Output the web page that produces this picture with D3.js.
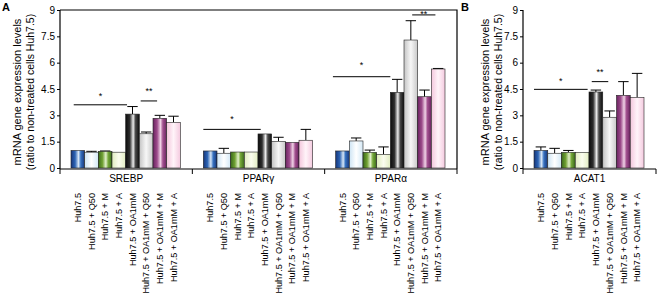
<!DOCTYPE html>
<html>
<head>
<meta charset="utf-8">
<script src="https://cdn.jsdelivr.net/npm/d3@7"></script>
<style>
    body { margin: 0; background: #fff; }
    svg { display: block; font-family: "Liberation Sans", Arial, sans-serif; }
</style>
</head>
<body>
<svg id="chart" width="657" height="298"></svg>
<script>
var treatments = ["Huh7.5", "Huh7.5 + Q50", "Huh7.5 + M", "Huh7.5 + A", "Huh7.5 + OA1mM",
    "Huh7.5 + OA1mM + Q50", "Huh7.5 + OA1mM + M", "Huh7.5 + OA1mM + A"];
var genesA = ["SREBP", "PPARγ", "PPARα"];
var genesB = ["ACAT1"];
var yTicks = [0, 1.5, 3, 4.5, 6, 7.5, 9];

var srebp = [1.0, 0.9, 0.95, 0.9, 3.07, 1.95, 2.83, 2.6];
var srebpErr = [0, 0.05, 0.02, 0, 0.43, 0.1, 0.17, 0.35];
var pparg = [0.97, 0.84, 0.91, 0.91, 1.94, 1.52, 1.46, 1.58];
var ppargErr = [0, 0.28, 0, 0, 0, 0.23, 0, 0.62];
var ppara = [0.97, 1.54, 0.89, 0.78, 4.31, 7.29, 4.06, 5.64];
var pparaErr = [0, 0.17, 0.13, 0.42, 0.74, 1.1, 0.38, 0.03];
var acat1 = [1.0, 0.84, 0.89, 0.89, 4.33, 2.89, 4.14, 4.02];
var acat1Err = [0.2, 0.28, 0.11, 0, 0.11, 0.36, 0.78, 1.37];

// significance brackets: bar positions (in bar units) and heights in data units
var brackets = [
    {gene: "SREBP", from: 0.2, to: 4.1, y: 3.6, label: "*", labelY: 4.2},
    {gene: "SREBP", from: 5.1, to: 6.3, y: 3.82, label: "**", labelY: 4.5},
    {gene: "PPARγ", from: 0, to: 4.2, y: 2.2, label: "*", labelY: 2.9},
    {gene: "PPARα", from: -0.2, to: 4.0, y: 5.2, label: "*", labelY: 5.98},
    {gene: "PPARα", from: 5.6, to: 7.3, y: 8.72, label: "**", labelY: 8.86},
    {gene: "ACAT1", from: 0, to: 3.9, y: 4.48, label: "*", labelY: 5.07},
    {gene: "ACAT1", from: 4.2, to: 5.4, y: 4.92, label: "**", labelY: 5.58}
];

var values = {"SREBP": srebp, "PPARγ": pparg, "PPARα": ppara, "ACAT1": acat1};
var errors = {"SREBP": srebpErr, "PPARγ": ppargErr, "PPARα": pparaErr, "ACAT1": acat1Err};

var gradients = [
    [["0", "#17367a"], ["0.3", "#2c64b4"], ["0.55", "#d6e6f6"], ["0.72", "#3571c0"], ["1", "#17367a"]],
    [["0", "#cde4f4"], ["0.5", "#ffffff"], ["1", "#d3e8f6"]],
    [["0", "#3b6a1c"], ["0.3", "#6fa032"], ["0.55", "#e3f1cc"], ["0.72", "#75a838"], ["1", "#3b6a1c"]],
    [["0", "#e0ecbf"], ["0.5", "#fbfdef"], ["1", "#e2edc3"]],
    [["0", "#0c0c0c"], ["0.3", "#2e2e2e"], ["0.55", "#ececec"], ["0.72", "#4a4a4a"], ["1", "#0c0c0c"]],
    [["0", "#c4c4c4"], ["0.5", "#f7f7f7"], ["1", "#c8c8c8"]],
    [["0", "#6a2360"], ["0.3", "#9c4a8a"], ["0.55", "#f0d2e6"], ["0.72", "#a2508f"], ["1", "#6a2360"]],
    [["0", "#f3c6dc"], ["0.5", "#fff4f9"], ["1", "#f4cadf"]]
];

var svg = d3.select("#chart");
var defs = svg.append("defs");

gradients.forEach(function(stops, i) {
    var grad = defs.append("linearGradient")
        .attr("id", "g" + i)
        .attr("x1", "0").attr("x2", "1").attr("y1", "0").attr("y2", "0");
    stops.forEach(function(s) {
        grad.append("stop").attr("offset", s[0]).attr("stop-color", s[1]);
    });
});

var y = d3.scaleLinear().domain([0, 9]).range([168, 10]);

var draw_panel = function(genes, x0, x1, letter, letterX, titleX, frame) {
    var g = svg.append("g");
    var x = d3.scaleBand().domain(genes).range([x0, x1]);
    var inner = d3.scaleLinear().domain([0, 8]).range([11, x.bandwidth() - 12]);
    var bw = inner(1) - inner(0);

    var yAxis = g.append("g")
        .attr("transform", "translate(" + x0 + ",0)")
        .call(d3.axisLeft(y).tickValues(yTicks).tickSize(3).tickPadding(2)
            .tickFormat(function(d) { return d; }));
    yAxis.select(".domain").attr("stroke-width", 1.2).attr("d", "M0,10V169");
    yAxis.selectAll("text").attr("font-size", 10).attr("font-family", "Liberation Sans, Arial, sans-serif");

    // bottom axis with ticks at group boundaries
    g.append("line").attr("x1", x0).attr("x2", x1).attr("y1", 169).attr("y2", 169)
        .attr("stroke", "#000").attr("stroke-width", 1.2);
    var bounds = genes.map(function(d) { return x(d); }).concat([x1]);
    g.selectAll(".xtick").data(bounds).enter().append("line")
        .attr("x1", function(d) { return d; }).attr("x2", function(d) { return d; })
        .attr("y1", 169).attr("y2", 174)
        .attr("stroke", "#000").attr("stroke-width", 1);

    if (frame) {
        g.append("path")
            .attr("d", "M" + x0 + ",10H" + x1 + "V169")
            .attr("fill", "none").attr("stroke", "#000").attr("stroke-width", 1.2);
    }

    genes.forEach(function(gene) {
        var gx = x(gene);
        var grp = g.append("g").attr("transform", "translate(" + gx + ",0)");
        var data = values[gene].map(function(v, i) {
            return {v: v, e: errors[gene][i], i: i, name: treatments[i]};
        });

        grp.selectAll(".err").data(data.filter(function(d) { return d.e > 0; })).enter().append("path")
            .attr("class", "err")
            .attr("d", function(d) {
                var cx = inner(d.i) + bw / 2;
                return "M" + cx + "," + y(d.v) + "V" + y(d.v + d.e) +
                    "M" + (cx - bw * 0.38) + "," + y(d.v + d.e) + "H" + (cx + bw * 0.38);
            })
            .attr("stroke", "#000").attr("stroke-width", 1).attr("fill", "none");

        grp.selectAll(".bar").data(data).enter().append("rect")
            .attr("class", "bar")
            .attr("x", function(d) { return inner(d.i); })
            .attr("width", bw)
            .attr("y", function(d) { return y(d.v); })
            .attr("height", function(d) { return y(0) - y(d.v); })
            .attr("fill", function(d) { return "url(#g" + d.i + ")"; })
            .attr("stroke", "#222").attr("stroke-width", 0.6);

        grp.append("text")
            .attr("x", x.bandwidth() / 2).attr("y", 182)
            .attr("text-anchor", "middle").attr("font-size", 10)
            .text(gene);

        grp.selectAll(".cat").data(data).enter().append("text")
            .attr("class", "cat")
            .attr("transform", function(d) {
                return "translate(" + (inner(d.i) + bw / 2 + 3.3) + ",193) rotate(-90)";
            })
            .attr("text-anchor", "end").attr("font-size", 9.1)
            .text(function(d) { return d.name; });

        var bk = grp.selectAll(".bk").data(brackets.filter(function(b) { return b.gene === gene; }))
            .enter().append("g");
        bk.append("line")
            .attr("x1", function(b) { return inner(b.from); })
            .attr("x2", function(b) { return inner(b.to); })
            .attr("y1", function(b) { return y(b.y); })
            .attr("y2", function(b) { return y(b.y); })
            .attr("stroke", "#000").attr("stroke-width", 1);
        bk.append("text")
            .attr("x", function(b) { return (inner(b.from) + inner(b.to)) / 2; })
            .attr("y", function(b) { return y(b.labelY) + 5; })
            .attr("text-anchor", "middle").attr("font-size", 9)
            .text(function(b) { return b.label; });
    });

    var title = g.append("text")
        .attr("transform", "translate(" + titleX + ",92) rotate(-90)")
        .attr("text-anchor", "middle");
    title.append("tspan").attr("x", 0).attr("y", 0).attr("font-size", 11)
        .text("mRNA gene expression levels");
    title.append("tspan").attr("x", 0).attr("y", 12.5).attr("font-size", 10.5)
        .text("(ratio to non-treated cells Huh7.5)");

    svg.append("text").attr("x", letterX).attr("y", 11)
        .attr("font-size", 11).attr("font-weight", "bold")
        .text(letter);
};

draw_panel(genesA, 60, 457, "A", 2, 21, true);
draw_panel(genesB, 523, 656, "B", 461, 489, false);
</script>
</body>
</html>
